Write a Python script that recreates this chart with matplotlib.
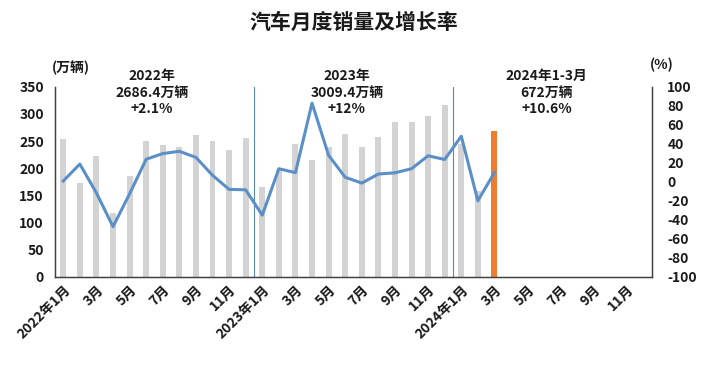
import matplotlib
matplotlib.use("Agg")
import matplotlib.pyplot as plt
import numpy as np

plt.rcParams['font.family'] = ['Noto Sans CJK SC', 'DejaVu Sans']
plt.rcParams['axes.unicode_minus'] = False

# Monthly sales (万辆), 2022-01 .. 2024-03
sales = [253.1, 173.7, 223.4, 118.1, 186.2, 250.2, 242.0, 238.3, 261.0, 250.5, 232.7, 255.6,
         164.9, 197.6, 245.1, 215.9, 238.2, 262.2, 238.7, 258.2, 285.8, 285.3, 297.0, 315.6,
         243.9, 158.4, 269.4]
# YoY growth (%)
growth = [0.9, 18.7, -11.7, -47.1, -12.6, 23.8, 29.7, 32.1, 25.7, 6.9, -7.9, -8.4,
          -35.0, 13.8, 9.7, 82.7, 27.9, 4.8, -1.3, 8.2, 9.5, 13.8, 27.4, 23.5,
          47.9, -19.9, 9.9]
n_months = 36
tick_labels = ['2022年1月', '3月', '5月', '7月', '9月', '11月',
               '2023年1月', '3月', '5月', '7月', '9月', '11月',
               '2024年1月', '3月', '5月', '7月', '9月', '11月']
annotations = [
    (5.35, '2022年\n2686.4万辆\n+2.1%'),
    (17.1, '2023年\n3009.4万辆\n+12%'),
    (29.15, '2024年1-3月\n672万辆\n+10.6%'),
]

fig = plt.figure(figsize=(7.28, 3.71), dpi=100)
ax = fig.add_axes([0.0755, 0.2534, 0.8201, 0.5129])

x = np.arange(len(sales))
colors = ['#D3D3D3'] * (len(sales) - 1) + ['#ED7D31']
ax.bar(x, sales, width=0.36, color=colors, zorder=1)
ax.set_xlim(-0.5, n_months - 0.5)
ax.set_ylim(0, 350)
ax.set_yticks(np.arange(0, 351, 50))

for v in (11.5, 23.5):
    ax.axvline(v, color='#5B87B5', lw=0.8, zorder=2)

ax.set_xticks(np.arange(0, n_months, 2))
ax.set_xticklabels(tick_labels, rotation=45, ha='right', rotation_mode='anchor',
                   fontsize=10, fontweight='bold', color='#1a1a1a')
ax.tick_params(axis='x', length=0, pad=4)
ax.tick_params(axis='y', length=0, pad=8, labelsize=10, labelcolor='#1a1a1a')
for lab in ax.get_yticklabels():
    lab.set_fontweight('bold')

ax.spines['top'].set_visible(False)
for s in ('left', 'bottom', 'right'):
    ax.spines[s].set_color('#404040')
    ax.spines[s].set_linewidth(1.0)

ax2 = ax.twinx()
ax2.plot(x, growth, color='#5B8FC7', lw=2.2, zorder=3)
ax2.set_ylim(-100, 100)
ax2.set_yticks(np.arange(-100, 101, 20))
ax2.tick_params(axis='y', length=0, pad=11, labelsize=10, labelcolor='#1a1a1a')
for lab in ax2.get_yticklabels():
    lab.set_fontweight('bold')
ax2.spines['top'].set_visible(False)
for s in ('left', 'bottom', 'right'):
    ax2.spines[s].set_color('#404040')

for xp, txt in annotations:
    ax.text(xp, 382, txt, ha='center', va='top', fontsize=10, fontweight='bold',
            color='#1a1a1a', linespacing=1.2, clip_on=False)

fig.text(0.486, 0.94, '汽车月度销量及增长率', ha='center', va='center',
         fontsize=15, fontweight='bold', color='#1a1a1a')
fig.text(0.098, 0.818, '(万辆)', ha='center', va='center', fontsize=10,
         fontweight='bold', color='#1a1a1a')
fig.text(0.909, 0.825, '(%)', ha='center', va='center', fontsize=10,
         fontweight='bold', color='#1a1a1a')

fig.savefig('out.png', dpi=100)
